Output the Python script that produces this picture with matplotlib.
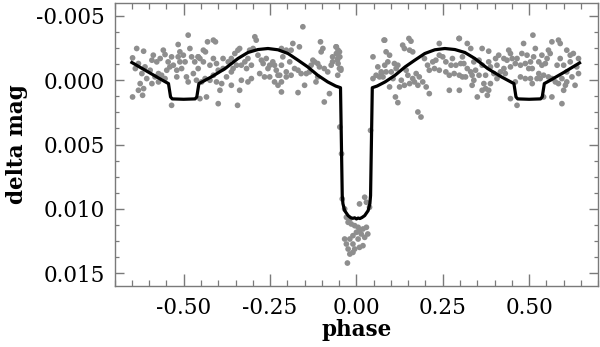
import matplotlib
matplotlib.use("Agg")
import matplotlib.pyplot as plt
from matplotlib.ticker import MultipleLocator, FixedLocator, FixedFormatter
import numpy as np

# ---- observed points (phase, delta mag) ----
obs_phase = [
 -0.487,-0.636,-0.616,-0.516,-0.482,-0.559,-0.511,-0.588,-0.554,-0.535,-0.568,-0.648,-0.592,-0.501,-0.477,
 -0.578,-0.545,-0.496,-0.468,-0.631,-0.530,-0.612,-0.640,-0.506,-0.597,-0.549,-0.621,-0.573,-0.472,-0.564,
 -0.583,-0.520,-0.492,-0.607,-0.554,-0.463,-0.626,-0.592,-0.487,-0.573,-0.616,-0.631,-0.619,-0.648,-0.535,
 -0.540,-0.520,-0.511,-0.458,-0.458,-0.516,
 -0.431,-0.414,-0.408,-0.443,-0.437,-0.453,-0.443,-0.458,-0.414,-0.405,-0.424,-0.386,-0.371,-0.362,-0.343,
 -0.352,-0.338,-0.386,-0.400,-0.414,-0.438,-0.424,-0.448,-0.405,-0.390,-0.376,-0.362,-0.357,-0.347,-0.333,
 -0.323,-0.314,-0.304,-0.318,-0.309,-0.299,-0.294,-0.290,-0.285,-0.275,-0.270,-0.261,-0.256,-0.251,-0.242,
 -0.237,-0.232,-0.227,-0.280,-0.266,-0.251,-0.304,-0.314,-0.333,-0.362,-0.395,-0.338,-0.400,-0.344,-0.434,
 -0.453,-0.227,-0.237,
 -0.155,-0.104,-0.184,-0.165,-0.189,-0.203,-0.217,-0.097,-0.102,-0.059,-0.049,-0.069,-0.054,-0.213,-0.193,
 -0.217,-0.179,-0.169,-0.203,-0.222,-0.189,-0.160,-0.145,-0.136,-0.121,-0.131,-0.126,-0.112,-0.107,-0.093,
 -0.083,-0.073,-0.069,-0.045,-0.054,-0.112,-0.117,-0.150,-0.203,-0.217,-0.217,-0.169,-0.078,-0.093,-0.049,
 -0.058,-0.053,-0.058,-0.048,-0.055,-0.053,-0.045,0.080,0.048,0.062,0.072,0.057,0.048,0.067,
 -0.048,-0.043,0.041,-0.041,0.009,0.024,0.029,0.038,-0.034,-0.029,-0.019,-0.024,-0.015,-0.005,0.005,
 0.009,0.019,0.029,0.000,0.014,0.033,-0.010,0.024,-0.034,-0.019,0.005,-0.029,-0.010,0.019,-0.024,
 -0.005,0.009,-0.019,-0.010,-0.026,
 0.082,0.152,0.158,0.134,0.139,0.154,0.163,0.086,0.096,0.091,0.110,0.120,0.082,0.086,0.072,
 0.101,0.077,0.106,0.115,0.144,0.149,0.130,0.163,0.173,0.182,0.154,0.168,0.192,0.178,0.139,
 0.125,0.096,0.202,0.197,0.206,0.221,0.230,0.240,0.240,0.250,0.259,0.211,0.226,0.240,0.259,
 0.269,0.283,0.298,0.288,0.274,0.278,0.298,0.269,0.211,0.113,0.120,0.178,0.187,0.298,
 0.297,0.321,0.331,0.364,0.383,0.441,0.446,0.484,0.412,0.403,0.427,0.436,0.451,0.465,0.479,
 0.494,0.307,0.302,0.311,0.340,0.355,0.364,0.383,0.388,0.407,0.427,0.446,0.460,0.475,0.489,
 0.321,0.331,0.345,0.355,0.307,0.316,0.335,0.374,0.398,0.417,0.431,0.407,0.388,0.369,0.340,
 0.335,0.475,0.489,0.460,0.374,0.364,0.383,0.350,0.379,0.446,0.465,0.499,
 0.511,0.566,0.585,0.590,0.518,0.556,0.561,0.609,0.619,0.628,0.643,0.513,0.537,0.552,0.528,
 0.504,0.509,0.537,0.547,0.590,0.581,0.600,0.619,0.638,0.609,0.528,0.542,0.523,0.532,0.504,
 0.509,0.556,0.566,0.576,0.595,0.585,0.609,0.605,0.633,0.542,0.566,0.600,0.595,0.643,0.624,
]
obs_mag = [
 -0.00351,-0.00247,-0.00226,-0.00278,-0.00247,-0.00234,-0.00221,-0.00195,-0.00200,-0.00182,-0.00169,-0.00174,-0.00156,-0.00195,-0.00182,
 -0.00143,-0.00143,-0.00143,-0.00143,-0.00130,-0.00117,-0.00104,-0.00091,-0.00091,-0.00078,-0.00078,-0.00052,-0.00052,-0.00052,-0.00039,
 -0.00026,-0.00026,-0.00026,-0.00013,-0.00013,0.00000,0.00026,0.00026,0.00013,0.00013,0.00065,0.00078,0.00117,0.00130,0.00195,
 -0.00104,-0.00078,-0.00143,-0.00091,-0.00182,-0.00182,
 -0.00299,-0.00312,-0.00299,-0.00234,-0.00221,-0.00169,-0.00143,-0.00182,-0.00169,-0.00130,-0.00117,-0.00169,-0.00143,-0.00169,-0.00234,
 -0.00208,-0.00247,-0.00091,-0.00078,-0.00039,-0.00013,0.00000,0.00013,0.00013,0.00026,-0.00026,-0.00065,-0.00091,-0.00117,-0.00117,
 -0.00143,-0.00169,-0.00117,-0.00091,-0.00234,-0.00247,-0.00338,-0.00312,-0.00195,-0.00156,-0.00130,-0.00169,-0.00091,-0.00117,-0.00143,
 -0.00117,-0.00078,-0.00039,-0.00052,-0.00026,-0.00026,-0.00013,0.00013,0.00000,0.00039,0.00078,0.00078,0.00182,0.00195,0.00130,
 0.00143,0.00039,0.00013,
 -0.00416,-0.00299,-0.00286,-0.00260,-0.00234,-0.00234,-0.00247,-0.00247,-0.00221,-0.00260,-0.00221,-0.00182,-0.00169,-0.00182,-0.00143,
 -0.00117,-0.00091,-0.00078,-0.00065,-0.00039,-0.00039,-0.00052,-0.00052,-0.00065,-0.00143,-0.00117,-0.00156,-0.00130,-0.00104,-0.00091,
 -0.00065,-0.00117,-0.00143,-0.00078,-0.00039,-0.00026,0.00013,0.00039,-0.00026,0.00013,0.00091,0.00096,0.00104,0.00169,-0.00091,
 -0.00260,-0.00234,-0.00208,-0.00182,-0.00156,-0.00130,-0.00091,-0.00312,-0.00182,-0.00104,-0.00065,-0.00039,-0.00013,-0.00026,
 0.00364,0.00572,0.00390,0.00923,0.00962,0.00910,0.00949,0.00988,0.01001,0.01066,0.01079,0.01105,0.01118,0.01131,0.01144,
 0.01170,0.01157,0.01144,0.01183,0.01196,0.01196,0.01209,0.01222,0.01235,0.01235,0.01235,0.01274,0.01274,0.01287,0.01313,
 0.01313,0.01300,0.01352,0.01339,0.01422,
 -0.00312,-0.00325,-0.00304,-0.00273,-0.00247,-0.00234,-0.00221,-0.00221,-0.00195,-0.00143,-0.00130,-0.00117,-0.00117,-0.00065,-0.00052,
 -0.00065,-0.00026,-0.00013,-0.00091,-0.00078,-0.00039,0.00000,-0.00013,-0.00052,-0.00026,0.00026,0.00013,0.00013,0.00039,0.00039,
 0.00052,0.00052,0.00052,-0.00169,-0.00117,-0.00143,-0.00156,-0.00195,-0.00286,-0.00182,-0.00143,-0.00078,-0.00091,-0.00078,-0.00065,
 -0.00039,-0.00052,-0.00039,-0.00117,-0.00117,-0.00169,-0.00325,0.00078,0.00104,0.00130,0.00174,0.00247,0.00286,0.00078,
 -0.00325,-0.00286,-0.00247,-0.00247,-0.00226,-0.00234,-0.00208,-0.00286,-0.00195,-0.00169,-0.00169,-0.00156,-0.00169,-0.00169,-0.00208,
 -0.00195,-0.00182,-0.00130,-0.00130,-0.00143,-0.00156,-0.00117,-0.00143,-0.00104,-0.00117,-0.00091,-0.00104,-0.00130,-0.00117,-0.00130,
 -0.00091,-0.00065,-0.00078,-0.00039,-0.00026,-0.00026,-0.00039,-0.00039,-0.00052,-0.00065,-0.00052,-0.00013,0.00026,0.00026,0.00000,
 0.00039,-0.00026,-0.00013,0.00013,0.00065,0.00078,0.00078,0.00130,0.00117,0.00143,0.00195,-0.00091,
 -0.00351,-0.00299,-0.00312,-0.00286,-0.00247,-0.00234,-0.00208,-0.00234,-0.00195,-0.00208,-0.00169,-0.00182,-0.00195,-0.00169,-0.00143,
 -0.00143,-0.00091,-0.00117,-0.00130,-0.00169,-0.00117,-0.00117,-0.00143,-0.00104,-0.00065,-0.00052,-0.00039,-0.00013,-0.00013,-0.00013,
 0.00026,-0.00026,-0.00013,0.00013,-0.00013,0.00026,0.00013,0.00039,0.00039,0.00130,0.00130,0.00078,0.00182,-0.00052,-0.00026,
]

# ---- model light curve ----
model_phase = [
 -0.650,-0.600,-0.560,-0.544,-0.538,-0.533,-0.500,-0.467,-0.462,-0.456,-0.420,-0.380,-0.343,-0.314,-0.285,
 -0.256,-0.227,-0.198,-0.169,-0.141,-0.112,-0.083,-0.060,-0.046,-0.041,-0.039,-0.034,-0.024,-0.016,-0.010,
 -0.005,0.000,0.005,0.010,0.016,0.024,0.034,0.039,0.041,0.046,0.060,0.083,0.112,0.141,0.169,0.198,
 0.227,0.256,0.285,0.314,0.343,0.380,0.420,0.456,0.462,0.467,0.500,0.533,0.538,0.544,0.560,0.600,0.646,
]
model_mag = [
 -0.00138,-0.00060,0.00002,0.00026,0.00130,0.00145,0.00148,0.00145,0.00130,0.00026,-0.00026,-0.00091,-0.00169,-0.00216,-0.00239,
 -0.00247,-0.00237,-0.00208,-0.00156,-0.00104,-0.00039,0.00013,0.00045,0.00058,0.00897,0.00960,0.01014,0.01053,0.01070,0.01074,
 0.01070,0.01079,0.01072,0.01076,0.01068,0.01053,0.01014,0.00960,0.00897,0.00058,0.00045,0.00013,-0.00039,-0.00104,-0.00156,-0.00208,
 -0.00237,-0.00247,-0.00239,-0.00216,-0.00169,-0.00091,-0.00026,0.00026,0.00130,0.00145,0.00148,0.00145,0.00130,0.00026,0.00002,-0.00060,-0.00135,
]

x_ticks = [-0.50, -0.25, 0.00, 0.25, 0.50]
x_labels = ["-0.50", "-0.25", "0.00", "0.25", "0.50"]
y_ticks = [-0.005, 0.000, 0.005, 0.010, 0.015]
y_labels = ["-0.005", "0.000", "0.005", "0.010", "0.015"]

plt.rcParams['font.family'] = ['DejaVu Serif']
fig = plt.figure(figsize=(6.0, 3.47), dpi=100)
ax = fig.add_axes([0.191, 0.176, 0.806, 0.815])

ax.scatter(obs_phase, obs_mag, s=17, color='#8e8e8e', edgecolors='none', zorder=2)
ax.plot(model_phase, model_mag, color='black', lw=2.3, zorder=3, solid_joinstyle='round')

ax.set_xlim(-0.7, 0.7)
ax.set_ylim(0.016, -0.006)

ax.xaxis.set_major_locator(FixedLocator(x_ticks))
ax.xaxis.set_major_formatter(FixedFormatter(x_labels))
ax.xaxis.set_minor_locator(MultipleLocator(0.05))
ax.yaxis.set_major_locator(FixedLocator(y_ticks))
ax.yaxis.set_major_formatter(FixedFormatter(y_labels))
ax.yaxis.set_minor_locator(MultipleLocator(0.00125))

gray = '#7a7a7a'
for s in ax.spines.values():
    s.set_color(gray)
    s.set_linewidth(1.0)
ax.tick_params(axis='both', which='both', direction='in', top=True, right=True, color=gray)
ax.tick_params(axis='x', which='major', length=8.5, width=1.0, pad=8, labelsize=15.5)
ax.tick_params(axis='x', which='minor', length=4.3, width=0.9)
ax.tick_params(axis='y', which='major', length=6.5, width=1.0, pad=7, labelsize=15.5)
ax.tick_params(axis='y', which='minor', length=3.0, width=0.9)

ax.set_xlabel('phase', fontsize=15.5, fontweight='bold', labelpad=0)
ax.set_ylabel('delta mag', fontsize=15.5, fontweight='bold', labelpad=6)

fig.savefig('out.png', dpi=100)
